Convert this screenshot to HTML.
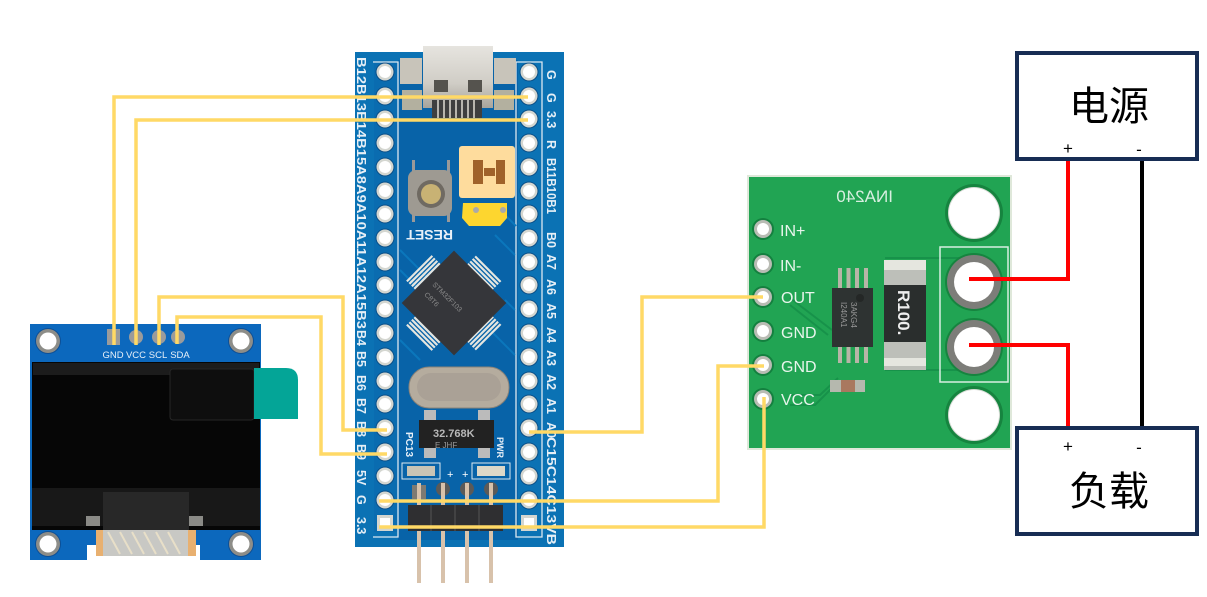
<!DOCTYPE html>
<html><head><meta charset="utf-8"><style>
html,body{margin:0;padding:0;background:#fff}
svg{display:block}
</style></head><body>
<svg width="1207" height="597" viewBox="0 0 1207 597" xmlns="http://www.w3.org/2000/svg" font-family="'Liberation Sans','Noto Sans CJK SC',sans-serif">
<defs>
<linearGradient id="silver" x1="0" y1="0" x2="0" y2="1"><stop offset="0" stop-color="#e6e4df"/><stop offset=".6" stop-color="#d0cdc6"/><stop offset="1" stop-color="#a8a49c"/></linearGradient>
<g id="p"><circle r="9.5" fill="#0a4f88"/><circle r="8.5" fill="#d4d6d0"/><circle r="6" fill="#fff"/></g>
<g id="ip"><circle r="11" fill="#14803f"/><circle r="9" fill="#b9bcb4"/><circle r="6" fill="#fff"/></g>
<g id="mh"><circle r="13" fill="#0c4f96"/><circle r="12" fill="#8d8d88"/><circle r="8.5" fill="#fff"/></g>
<g id="comb"><rect x="-18" y="0" width="36" height="2.200" fill="#e6e6e0"/><rect x="-18" y="3.500" width="36" height="2.200" fill="#e6e6e0"/><rect x="-18" y="7" width="36" height="2.200" fill="#e6e6e0"/><rect x="-18" y="10.500" width="36" height="2.200" fill="#e6e6e0"/></g>
</defs>

<!-- OLED -->
<rect x="30" y="324" width="231" height="236" fill="#0c68bd"/>
<rect x="32" y="362" width="228" height="168" fill="#060606"/>
<rect x="33" y="363" width="226" height="12" fill="#1c1c1c"/>
<rect x="32" y="488" width="228" height="38" fill="#181818"/>
<rect x="103" y="492" width="86" height="38" fill="#282828"/>
<rect x="170" y="369" width="84" height="51" rx="3" fill="#0e0e0e" stroke="#262626"/>
<path d="M254 368H286Q298 368 298 380V419H254Z" fill="#04a597"/>
<rect x="30" y="530" width="231" height="30" fill="#0c68bd"/>
<rect x="87" y="545" width="113" height="15" fill="#fff"/>
<rect x="86" y="516" width="14" height="10" fill="#8a8a86"/>
<rect x="189" y="516" width="14" height="10" fill="#8a8a86"/>
<rect x="96" y="530" width="10" height="26" fill="#e8b070"/>
<rect x="186" y="530" width="10" height="26" fill="#e8b070"/>
<rect x="103" y="530" width="85" height="26" fill="#c8c8c4"/>
<path d="M108 532l12 22M120 532l12 22M132 532l12 22M144 532l12 22M156 532l12 22M168 532l12 22" stroke="#e8dfc8" stroke-width="2"/>
<use href="#mh" x="48" y="341"/><use href="#mh" x="241" y="341"/>
<use href="#mh" x="48" y="544"/><use href="#mh" x="241" y="544"/>
<rect x="107" y="329" width="13" height="16" fill="#9b9b9b"/>
<circle cx="136" cy="337" r="7" fill="#9b9b9b"/><circle cx="159" cy="337" r="7" fill="#9b9b9b"/><circle cx="178" cy="337" r="7" fill="#9b9b9b"/>
<g fill="#e8f0f8" font-size="9.500" text-anchor="middle">
<text x="113" y="358">GND</text><text x="136" y="358">VCC</text><text x="158" y="358">SCL</text><text x="180" y="358">SDA</text>
</g>

<!-- STM32 board -->
<rect x="355" y="52" width="209" height="495" fill="#0b72b4"/>
<rect x="398" y="60" width="120" height="480" fill="#0863a8"/>
<rect x="374" y="62" width="24" height="470" fill="#0a6cb0"/>
<g fill="none" stroke="#dce8f0" stroke-width="1.300">
<path d="M373 62H398V537H373"/>
<path d="M516 62H542V537H516Z"/>
</g>
<path d="M400 250l35 35M400 270l30 30M500 210l16 16M495 235l20 20M490 330l25 25M400 340l20 20M505 300l10 10" stroke="#0b77bc" stroke-width="2"/>
<!-- USB -->
<rect x="400" y="58" width="22" height="26" fill="#c8c4ba"/>
<rect x="494" y="58" width="22" height="26" fill="#c8c4ba"/>
<rect x="402" y="90" width="20" height="20" fill="#b3b09f"/>
<rect x="494" y="90" width="20" height="20" fill="#b3b09f"/>
<rect x="423" y="46" width="70" height="62" fill="url(#silver)"/>
<rect x="434" y="80" width="14" height="12" fill="#55534e"/>
<rect x="468" y="80" width="14" height="12" fill="#55534e"/>
<rect x="432" y="100" width="50" height="18" fill="#3f3f3f"/>
<path d="M438 100v18M444 100v18M450 100v18M456 100v18M462 100v18M468 100v18M474 100v18" stroke="#b8b5ae" stroke-width="2"/>
<!-- reset -->
<rect x="412" y="160" width="3" height="20" fill="#999"/><rect x="447" y="160" width="3" height="20" fill="#999"/>
<rect x="412" y="210" width="3" height="12" fill="#999"/><rect x="447" y="210" width="3" height="12" fill="#999"/>
<rect x="408" y="170" width="44" height="46" rx="8" fill="#9e9a92"/>
<circle cx="431" cy="194" r="14" fill="#6f6a62"/><circle cx="431" cy="194" r="10" fill="#c8b274"/>
<text transform="translate(453,230) rotate(180)" font-size="14" fill="#e8f0f8" font-weight="bold">RESET</text>
<!-- jumper -->
<rect x="459" y="146" width="56" height="52" rx="3" fill="#fedc9d"/>
<rect x="473" y="160" width="10" height="24" fill="#a0622a"/><rect x="496" y="160" width="9" height="24" fill="#a0622a"/>
<rect x="484" y="168" width="11" height="8" fill="#a0622a"/>
<path d="M463 203H507V218L500 226H469L462 218Z" fill="#fdd62f"/>
<circle cx="476" cy="210" r="3" fill="#aaa"/><circle cx="503" cy="210" r="3" fill="#aaa"/>
<!-- MCU -->
<g transform="translate(454,303) rotate(45)">
<use href="#comb" x="0" y="-49"/>
<use href="#comb" x="0" y="37"/>
<use href="#comb" transform="rotate(90) translate(0,-49)"/>
<use href="#comb" transform="rotate(90) translate(0,37)"/>
<rect x="-37" y="-37" width="74" height="74" fill="#35363a"/>
</g>
<text transform="translate(432,285) rotate(45)" font-size="7" fill="#8c8c8c">STM32F103</text>
<text transform="translate(424,295) rotate(45)" font-size="7" fill="#8c8c8c">C8T6</text>
<!-- crystal -->
<rect x="409" y="367" width="100" height="41" rx="20" fill="#b5ac9e" stroke="#8a8379"/>
<rect x="417" y="373" width="84" height="28" rx="14" fill="#aaa196"/>
<!-- SOT -->
<rect x="424" y="410" width="12" height="10" fill="#bbb"/><rect x="478" y="410" width="12" height="10" fill="#bbb"/>
<rect x="424" y="448" width="12" height="10" fill="#bbb"/><rect x="478" y="448" width="12" height="10" fill="#bbb"/>
<rect x="419" y="420" width="75" height="28" fill="#222"/>
<text x="433" y="437" font-size="11" fill="#b8b8b8" font-weight="bold">32.768K</text>
<text x="435" y="448" font-size="8" fill="#999">E  JHF</text>
<text transform="translate(406,432) rotate(90)" font-size="10" fill="#e8f0f8" font-weight="bold">PC13</text>
<text transform="translate(497,437) rotate(90)" font-size="9" fill="#e8f0f8" font-weight="bold">PWR</text>
<!-- LEDs -->
<rect x="402" y="463" width="38" height="16" fill="#0863a8" stroke="#dce8f0"/>
<rect x="472" y="463" width="38" height="16" fill="#0863a8" stroke="#dce8f0"/>
<rect x="407" y="466" width="28" height="10" fill="#c9c4b5"/>
<rect x="477" y="466" width="28" height="10" fill="#ddd8c8"/>
<text x="447" y="478" font-size="11" fill="#fff">+</text><text x="462" y="478" font-size="11" fill="#fff">+</text>
<!-- header -->
<rect x="412" y="485" width="14" height="14" fill="#7e7a72"/>
<circle cx="443" cy="489" r="7" fill="#5b5a58"/><circle cx="467" cy="489" r="7" fill="#5b5a58"/><circle cx="491" cy="489" r="7" fill="#5b5a58"/>
<rect x="417" y="483" width="4" height="100" fill="#d8c2ab"/>
<rect x="441" y="483" width="4" height="100" fill="#d8c2ab"/>
<rect x="465" y="483" width="4" height="100" fill="#d8c2ab"/>
<rect x="489" y="483" width="4" height="100" fill="#d8c2ab"/>
<rect x="408" y="505" width="95" height="26" fill="#2f2f31"/>
<path d="M431 505v26M455 505v26M479 505v26" stroke="#555" stroke-width="1"/>
<!-- pins -->
<g>
<use href="#p" x="385" y="72"/><use href="#p" x="385" y="96"/><use href="#p" x="385" y="119"/><use href="#p" x="385" y="143"/><use href="#p" x="385" y="167"/><use href="#p" x="385" y="191"/><use href="#p" x="385" y="214"/><use href="#p" x="385" y="238"/><use href="#p" x="385" y="262"/><use href="#p" x="385" y="285"/><use href="#p" x="385" y="309"/><use href="#p" x="385" y="333"/><use href="#p" x="385" y="357"/><use href="#p" x="385" y="381"/><use href="#p" x="385" y="404"/><use href="#p" x="385" y="428"/><use href="#p" x="385" y="452"/><use href="#p" x="385" y="476"/><use href="#p" x="385" y="500"/>
<rect x="377" y="515" width="16" height="16" fill="#d4d6d0"/><rect x="380" y="518" width="10" height="10" fill="#fff"/>
<use href="#p" x="529" y="72"/><use href="#p" x="529" y="96"/><use href="#p" x="529" y="119"/><use href="#p" x="529" y="143"/><use href="#p" x="529" y="167"/><use href="#p" x="529" y="191"/><use href="#p" x="529" y="214"/><use href="#p" x="529" y="238"/><use href="#p" x="529" y="262"/><use href="#p" x="529" y="285"/><use href="#p" x="529" y="309"/><use href="#p" x="529" y="333"/><use href="#p" x="529" y="357"/><use href="#p" x="529" y="381"/><use href="#p" x="529" y="404"/><use href="#p" x="529" y="428"/><use href="#p" x="529" y="452"/><use href="#p" x="529" y="476"/><use href="#p" x="529" y="500"/>
<rect x="521" y="515" width="16" height="16" fill="#d4d6d0"/><rect x="524" y="518" width="10" height="10" fill="#fff"/>
</g>
<!-- left labels -->
<g fill="#e6eff6" font-size="12.500" font-weight="bold">
<text transform="translate(357,57) rotate(90)" textLength="272" lengthAdjust="spacingAndGlyphs">B12B13B14B15A8A9A10A11A12A15B3</text>
<text transform="translate(357,330) rotate(90)">B4</text>
<text transform="translate(357,351) rotate(90)">B5</text>
<text transform="translate(357,375) rotate(90)">B6</text>
<text transform="translate(357,398) rotate(90)">B7</text>
<text transform="translate(357,421) rotate(90)">B8</text>
<text transform="translate(357,444) rotate(90)">B9</text>
<text transform="translate(357,470) rotate(90)">5V</text>
<text transform="translate(357,495) rotate(90)">G</text>
<text transform="translate(357,517) rotate(90)">3.3</text>
</g>
<!-- right labels -->
<g fill="#e6eff6" font-size="12.500" font-weight="bold">
<text transform="translate(547,70) rotate(90)">G</text>
<text transform="translate(547,93) rotate(90)">G</text>
<text transform="translate(547,111) rotate(90)">3.3</text>
<text transform="translate(547,140) rotate(90)">R</text>
<text transform="translate(547,158) rotate(90)" textLength="56" lengthAdjust="spacingAndGlyphs">B11B10B1</text>
<text transform="translate(547,232) rotate(90)">B0</text>
<text transform="translate(547,254) rotate(90)">A7</text>
<text transform="translate(547,279) rotate(90)">A6</text>
<text transform="translate(547,303) rotate(90)">A5</text>
<text transform="translate(547,327) rotate(90)">A4</text>
<text transform="translate(547,350) rotate(90)">A3</text>
<text transform="translate(547,374) rotate(90)">A2</text>
<text transform="translate(547,398) rotate(90)">A1</text>
<text transform="translate(547,422) rotate(90)">A0</text>
<text transform="translate(547,437) rotate(90)" textLength="108" lengthAdjust="spacingAndGlyphs">C15C14C13VB</text>
</g>

<!-- INA240 -->
<rect x="747" y="175" width="265" height="275" fill="#dfe8da"/>
<rect x="749" y="177" width="261" height="271" fill="#21a453"/>
<path d="M790 305L828 335M790 298L832 330M838 378L820 395H790M836 384L815 405H790M885 258H960M885 370H960" fill="none" stroke="#17924a" stroke-width="2"/>
<text transform="translate(893,202) scale(-1,1)" font-size="17" fill="#d8efe0">INA240</text>
<circle cx="974" cy="213" r="29" fill="#16843f"/><circle cx="974" cy="213" r="26" fill="#d8dcd6"/><circle cx="974" cy="213" r="25" fill="#fff"/>
<circle cx="974" cy="415" r="29" fill="#16843f"/><circle cx="974" cy="415" r="26" fill="#d8dcd6"/><circle cx="974" cy="415" r="25" fill="#fff"/>
<rect x="940" y="247" width="68" height="135" fill="none" stroke="#d8efe2" stroke-width="1.500"/>
<circle cx="974" cy="282" r="29" fill="#16843f"/><circle cx="974" cy="282" r="27" fill="#7d7d79"/><circle cx="974" cy="282" r="20" fill="#fff"/>
<circle cx="974" cy="347" r="29" fill="#16843f"/><circle cx="974" cy="347" r="27" fill="#7d7d79"/><circle cx="974" cy="347" r="20" fill="#fff"/>
<use href="#ip" x="763" y="229"/><use href="#ip" x="763" y="264"/><use href="#ip" x="763" y="297"/><use href="#ip" x="763" y="331"/><use href="#ip" x="763" y="365"/><use href="#ip" x="763" y="399"/>
<g fill="#e8f5ec" font-size="16">
<text x="780" y="236">IN+</text><text x="780" y="271">IN-</text><text x="781" y="303">OUT</text><text x="781" y="338">GND</text><text x="781" y="372">GND</text><text x="781" y="405">VCC</text>
</g>
<!-- chip -->
<path d="M840 268v22M848.500 268v22M857 268v22M866 268v22M840 345v18M848.500 345v18M857 345v18M866 345v18" stroke="#b7b5a7" stroke-width="4"/>
<rect x="832" y="288" width="41" height="59" fill="#2e3332"/>
<circle cx="860" cy="298" r="4" fill="#242726"/>
<text transform="translate(851,302) rotate(90)" font-size="8" fill="#999">3AKG4</text>
<text transform="translate(841,302) rotate(90)" font-size="8" fill="#999">I240A1</text>
<!-- resistor -->
<rect x="884" y="260" width="42" height="110" fill="#bdbfb9"/>
<rect x="884" y="260" width="42" height="10" fill="#e5e6df"/>
<rect x="884" y="358" width="42" height="8" fill="#e5e6df"/>
<rect x="884" y="285" width="42" height="57" fill="#2a2e2d"/>
<text transform="translate(898,290) rotate(90)" font-size="17" font-weight="bold" fill="#eee">R100.</text>
<!-- cap -->
<rect x="830" y="380" width="35" height="12" fill="#b5b8ae"/>
<rect x="841" y="380" width="14" height="12" fill="#a9785f"/>

<!-- Yellow wires -->
<g fill="none" stroke="#FFD966" stroke-width="3.500" stroke-linejoin="miter">
<polyline points="528,97 114,97 114,345"/>
<polyline points="528,120 136,120 136,345"/>
<polyline points="159,345 159,297 343,297 343,430 387,430"/>
<polyline points="177,344 177,317 321,317 321,454 387,454"/>
<polyline points="529,432 642,432 642,297 763,297"/>
<polyline points="379,501 718,501 718,366 764,366"/>
<polyline points="379,527 764,527 764,397"/>
</g>

<!-- Red / black -->
<g fill="none" stroke-width="4">
<polyline points="969,279 1068,279 1068,160" stroke="#ff0000"/>
<polyline points="969,345 1068,345 1068,427" stroke="#ff0000"/>
<line x1="1142" y1="160" x2="1142" y2="427" stroke="#000"/>
</g>

<!-- Boxes -->
<rect x="1017" y="53" width="180" height="106" fill="#fff" stroke="#172d54" stroke-width="4"/>
<rect x="1017" y="428" width="180" height="106" fill="#fff" stroke="#172d54" stroke-width="4"/>
<g fill="#000">
<text x="1069" y="120" font-size="40">电源</text>
<text x="1069" y="505" font-size="40">负载</text>
<g font-size="17" text-anchor="middle">
<text x="1068" y="154">+</text><text x="1139" y="155">-</text>
<text x="1068" y="452">+</text><text x="1139" y="453">-</text>
</g>
</g>
</svg>
</body></html>
